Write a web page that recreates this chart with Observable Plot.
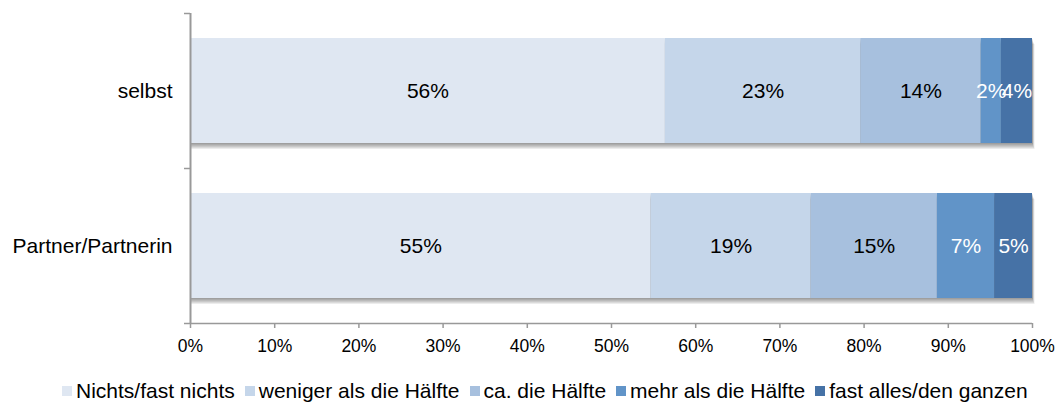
<!DOCTYPE html>
<html>
<head>
<meta charset="utf-8">
<script src="https://cdn.jsdelivr.net/npm/d3@7"></script>
<script src="https://cdn.jsdelivr.net/npm/@observablehq/plot@0.6"></script>
<style>
  body { margin: 0; background: #fff; font-family: "Liberation Sans", Arial, sans-serif; }
  #legend { display: flex; justify-content: flex-start; padding-left: 62px; font-size: 21px; color: #000; margin-top: 14px; white-space: nowrap; }
  #legend .item { display: flex; align-items: center; margin-right: 10px; }
  #legend .sw { width: 10px; height: 10px; margin-right: 4px; }
</style>
</head>
<body>
<div id="chart"></div>
<div id="legend"></div>
<script>
const categories = ["selbst", "Partner/Partnerin"];
const series = ["Nichts/fast nichts", "weniger als die Hälfte", "ca. die Hälfte", "mehr als die Hälfte", "fast alles/den ganzen"];
const colors = ["#dfe7f2", "#c5d6ea", "#a7c0de", "#6194c8", "#4672a6"];
const labelColors = ["#000", "#000", "#000", "#fff", "#fff"];
const selbstValues = [56.4, 23.2, 14.3, 2.4, 3.7];
const partnerValues = [54.7, 19.0, 15.0, 6.8, 4.5];
const xTicks = [0, 0.1, 0.2, 0.3, 0.4, 0.5, 0.6, 0.7, 0.8, 0.9, 1.0];

const valueRows = [selbstValues, partnerValues];
const data = [];
categories.forEach((c, i) => {
  const total = d3.sum(valueRows[i]);
  valueRows[i].forEach((v, j) => {
    data.push({cat: c, series: series[j], share: v / total, label: Math.round(v) + "%", lc: labelColors[j]});
  });
});

// soft shadow under each bar: layered translucent copies of the full row
const shadowLayers = [1, 2, 3, 4, 5, 6].map(k =>
  Plot.barX(categories, {x1: 0, x2: 1, y: d => d, fill: "#000", fillOpacity: 0.075, dy: k, dx: 1, insetRight: -Math.max(0, k - 3) * 0.5})
);

const W = 1059, H = 365;
const step = (323 - 13) / categories.length;
const plot = Plot.plot({
  width: W,
  height: H,
  marginLeft: 190,
  marginRight: 27,
  marginTop: 13,
  marginBottom: 42,
  style: {fontFamily: '"Liberation Sans", Arial, sans-serif', background: "#fff", overflow: "visible"},
  x: {domain: [0, 1], ticks: xTicks, tickFormat: d3.format(".0%"), label: null},
  y: {domain: categories, paddingInner: 0.3226, paddingOuter: 0.1613, label: null},
  color: {domain: series, range: colors},
  marks: [
    ...shadowLayers,
    Plot.barX(data, Plot.stackX({x: "share", y: "cat", fill: "series", order: series})),
    Plot.text(data, Plot.stackX({x: "share", y: "cat", z: "series", order: series, text: "label", fill: "lc", fontSize: 21})),
    Plot.axisX({ticks: xTicks, tickFormat: d3.format(".0%"), tickSize: 5, tickPadding: 11, fontSize: 17.5, stroke: "#999", color: "#000", strokeWidth: 1.5, label: null}),
    Plot.ruleY([categories[categories.length - 1]], {y: d => d, x1: 0, x2: 1, stroke: "#999", strokeWidth: 1.5, dy: step / 2}),
    Plot.axisY({tickSize: 0, tickPadding: 18, fontSize: 21, color: "#000", label: null}),
    Plot.ruleX([0], {stroke: "#999", strokeWidth: 2}),
    Plot.ruleY(categories, {y: d => d, x1: 0, x2: 0, insetLeft: -6, stroke: "#999", strokeWidth: 1.5, dy: -step / 2}),
    Plot.ruleY([categories[categories.length - 1]], {y: d => d, x1: 0, x2: 0, insetLeft: -6, stroke: "#999", strokeWidth: 1.5, dy: step / 2})
  ]
});
document.getElementById("chart").appendChild(plot);

// legend
const lg = d3.select("#legend");
series.forEach((s, i) => {
  const it = lg.append("div").attr("class", "item");
  it.append("div").attr("class", "sw").style("background", colors[i]);
  it.append("span").text(s);
});
</script>
</body>
</html>
